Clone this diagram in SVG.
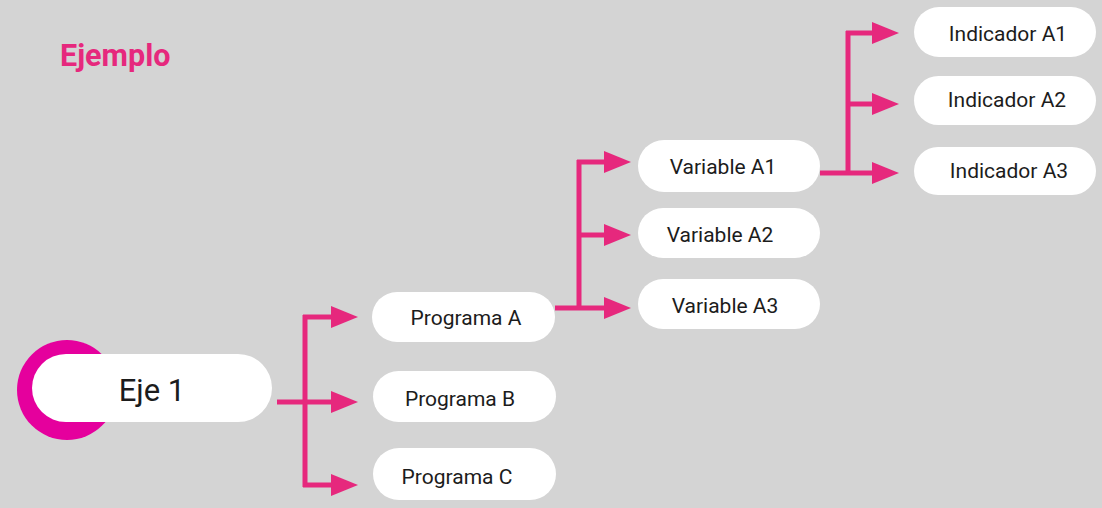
<svg xmlns="http://www.w3.org/2000/svg" width="1102" height="508" viewBox="0 0 1102 508">
<style>
.pill{fill:#ffffff}
.lbl{font-family:Roboto,"Liberation Sans",sans-serif;font-size:21px;fill:#1c1c1c;text-anchor:middle}
.con{stroke:#e6287d;stroke-width:5;fill:none}
</style>
<defs>
<marker id="arr" markerUnits="userSpaceOnUse" markerWidth="27" markerHeight="22" viewBox="0 0 27 22" refX="2" refY="11" orient="auto">
<path d="M0,0 L27,11 L0,22 Z" fill="#e6287d"/>
</marker>
</defs>
<rect width="1102" height="508" fill="#d4d4d4"/>
<text x="60" y="66" font-family="Roboto,'Liberation Sans',sans-serif" font-weight="bold" font-size="30.5" fill="#e6287d">Ejemplo</text>
<g id="connectors">
<path class="con" d="M305,315 V487"/>
<path class="con" d="M277,402 H333" marker-end="url(#arr)"/>
<path class="con" d="M303,317 H333" marker-end="url(#arr)"/>
<path class="con" d="M303,485 H333" marker-end="url(#arr)"/>
<path class="con" d="M579,160 V310"/>
<path class="con" d="M555,308 H606" marker-end="url(#arr)"/>
<path class="con" d="M577,162 H606" marker-end="url(#arr)"/>
<path class="con" d="M577,235 H606" marker-end="url(#arr)"/>
<path class="con" d="M848,31 V175"/>
<path class="con" d="M820,173 H874" marker-end="url(#arr)"/>
<path class="con" d="M846,33 H874" marker-end="url(#arr)"/>
<path class="con" d="M846,104 H874" marker-end="url(#arr)"/>
</g>
<g id="eje1">
<circle cx="67" cy="390" r="50" fill="#e5009d"/>
<rect class="pill" x="32" y="354" width="240" height="68" rx="34"/>
<text x="152" y="401" font-family="Roboto,'Liberation Sans',sans-serif" font-size="31" fill="#1c1c1c" text-anchor="middle">Eje 1</text>
</g>
<g id="programaA"><rect class="pill" x="372" y="292" width="183" height="50" rx="25"/><text class="lbl" x="466" y="325">Programa A</text></g>
<g id="programaB"><rect class="pill" x="373" y="371" width="183" height="51" rx="25.5"/><text class="lbl" x="460" y="406">Programa B</text></g>
<g id="programaC"><rect class="pill" x="373" y="448" width="183" height="52" rx="26"/><text class="lbl" x="457" y="484">Programa C</text></g>
<g id="variableA1"><rect class="pill" x="638" y="140" width="182" height="52" rx="26"/><text class="lbl" x="723" y="174">Variable A1</text></g>
<g id="variableA2"><rect class="pill" x="638" y="208" width="182" height="50" rx="25"/><text class="lbl" x="720" y="242">Variable A2</text></g>
<g id="variableA3"><rect class="pill" x="638" y="279" width="182" height="50" rx="25"/><text class="lbl" x="725" y="313">Variable A3</text></g>
<g id="indicadorA1"><rect class="pill" x="914" y="7" width="182" height="50" rx="25"/><text class="lbl" x="1008" y="41">Indicador A1</text></g>
<g id="indicadorA2"><rect class="pill" x="914" y="76" width="182" height="49" rx="24.5"/><text class="lbl" x="1007" y="107">Indicador A2</text></g>
<g id="indicadorA3"><rect class="pill" x="914" y="147" width="182" height="48" rx="24"/><text class="lbl" x="1009" y="178">Indicador A3</text></g>
</svg>
